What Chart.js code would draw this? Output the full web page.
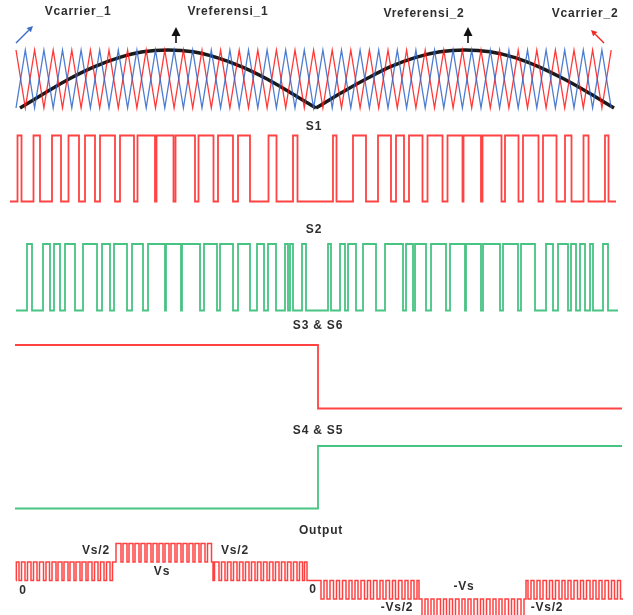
<!DOCTYPE html>
<html><head><meta charset="utf-8">
<script src="https://cdn.jsdelivr.net/npm/chart.js@4/dist/chart.umd.min.js"></script>
<style>
html,body{margin:0;padding:0;background:#fff;}
#wrap{position:relative;width:633px;height:615px;overflow:hidden;}
#c{position:absolute;left:0;top:0;}
.lbl{position:absolute;font-family:"Liberation Sans",Arial,Helvetica,sans-serif;font-weight:bold;font-size:12px;line-height:12px;color:#2e2e2e;letter-spacing:0.8px;transform:translate(-50%,-50%);white-space:nowrap;}
</style></head><body>
<div id="wrap"><canvas id="c" width="633" height="615"></canvas></div>
<script>
// ---------------- DATA (time axis in samples) ----------------
const carrierVertexT = [16,25.3,34.6,43.9,53.2,62.5,71.8,81.1,90.4,99.7,109,118.3,127.6,136.9,146.2,155.5,164.8,174.1,183.4,192.7,202,211.3,220.6,229.9,239.2,248.5,257.8,267.1,276.4,285.7,295,304.3,313.6,322.9,332.2,341.5,350.8,360.1,369.4,378.7,388,397.3,406.6,415.9,425.2,434.5,443.8,453.1,462.4,471.7,481,490.3,499.6,508.9,518.2,527.5,536.8,546.1,555.4,564.7,574,583.3,592.6,601.9,611.2];
const carrier1StartLevel = 0;   // blue
const carrier2StartLevel = 1;   // red

const refT = [20,45,69,94,119,143,168,193,217,242,267,291,316,341,366,390,415,440,465,490,515,539,564,589,614];
const refV = [0,0.26,0.5,0.71,0.87,0.97,1,0.97,0.87,0.71,0.5,0.26,0,0.26,0.5,0.71,0.87,0.97,1,0.97,0.87,0.71,0.5,0.26,0];

const s1Range = [10, 616];
const s1Edges = [17.5,21.5,33.5,40,52,61,68.5,79,85,95,100,115,120,134,137.5,155,156.5,173.5,175.5,195,198.5,213.5,218,233,238,250,268.5,276.5,293,297.5,
  333,336.5,353,366,378,391,396,404,409,422.5,427.5,442.5,447.5,462.5,463.5,481,482.5,501.5,505,518.5,523,538.5,543,556.5,565,571.5,583.5,588.5,605,608.5];

const s2Range = [16, 618];
const s2Edges = [27,32,43,50,54,60,65,75,83,97,102,110,114,127,132,143,148,165,166,181,182,200,204,217,220,233,238,250,257,264,268,276,285,288,290,293,302,306,
  328,331,340,345,348,356,363,376,385,403,406,413,415,426,431,446,450,465,466,481,483,500,503,518,521,535,546,553,558,568,571,576,580,585,590,593,603,608];

const s36Range = [15, 622], s36SwitchT = 318, s36Levels = [1, 0];
const s45Range = [15, 622], s45SwitchT = 318, s45Levels = [0, 1];

// Output: per segment start time, base level, alternate level, toggle edges (levels in units of Vs)
const outSegStart = [16, 115.5, 213, 320.5, 421, 526];
const outSegBase  = [0, 0.5, 0, 0, -0.5, 0];
const outSegAlt   = [0.5, 1, 0.5, -0.5, -1, -0.5];
const outEdgesA = [16.5,19,21.5,25,27.5,31,33.5,37,39.5,43.5,46,49.5,52,56,58,62,64,68,70,74,76,80,82,86,88,92,94.5,98,100.5,104,106.5,110,112.5];
const outEdgesB = [116,121,123,127,129,133,135,139,141,145,147,151,153,157,159,163,165,169,171,175,177,181,183,187,189,193,195,199,201,205,207.5,211.5];
const outEdgesC = [214.5,219,221.5,225,227.5,231,233.5,237,239.5,243,245.5,249,251.5,255,257.5,261,263.5,267,269.5,273,275.5,279,281.5,285,287.5,291,293.5,297,299.5,302.5,304.5,307];
const outEdgesD = [321,324,327,330,333.5,336.5,339.5,342.5,346,349,352,355,358,361,364.5,367.5,370.5,373.5,377,380,383,386,389.5,392.5,395.5,398.5,402,405,408,411,414,417,419];
const outEdgesE = [422,425,428,431,434,437,440.5,443.5,446.5,449.5,452.5,455.5,459,462,465,468,471,474,477.5,480.5,483.5,486.5,490,493,496,499,502,505,508.5,511.5,514.5,517.5,521,524];
const outEdgesF = [528,531,534,537,540,543,546.5,549.5,552.5,555.5,559,562,565,568,571,574,577.5,580.5,583.5,586.5,590,593,596,599,602,605,608.5,611.5,614.5,617.5,620.5];
const outEnd = 623;

// ---------------- LAYOUT ----------------
const W = 633, H = 615;
function yAxis(vHi, pxHi, vLo, pxLo){
  const k = (pxLo - pxHi) / (vHi - vLo);
  const max = vHi + pxHi / k;
  return {type:'linear', display:false, min:max - H / k, max:max};
}

// ---------------- BUILDERS ----------------
function trianglePts(ts, start){ return ts.map((t,i)=>({x:t, y:(i%2===0)?start:1-start})); }
function pwmPts(range, edges){
  const p=[{x:range[0],y:0}]; let lv=0;
  edges.forEach(t=>{p.push({x:t,y:lv}); lv=1-lv; p.push({x:t,y:lv});});
  p.push({x:range[1],y:lv}); return p;
}
function stepPts(range, sw, levels){
  return [{x:range[0],y:levels[0]},{x:sw,y:levels[0]},{x:sw,y:levels[1]},{x:range[1],y:levels[1]}];
}
function outPts(){
  const segs=[outEdgesA,outEdgesB,outEdgesC,outEdgesD,outEdgesE,outEdgesF];
  const p=[]; let lv=outSegBase[0];
  segs.forEach((edges,i)=>{
    const t0=outSegStart[i];
    p.push({x:t0,y:lv}); lv=outSegBase[i]; p.push({x:t0,y:lv});
    edges.forEach(t=>{p.push({x:t,y:lv}); lv=(lv===outSegBase[i])?outSegAlt[i]:outSegBase[i]; p.push({x:t,y:lv});});
  });
  p.push({x:outEnd,y:lv}); return p;
}
const refPts = refT.map((t,i)=>({x:t,y:refV[i]}));

const RED='rgba(255,0,0,0.74)', GREEN='rgba(0,172,82,0.72)', BLUE='rgba(45,100,200,0.85)';
const base = {pointRadius:0, borderJoinStyle:'miter', tension:0, clip:false, fill:false};

const arrows = {
  id:'arrows',
  afterDatasetsDraw(chart){
    const ctx=chart.ctx; ctx.save();
    function arrow(x1,y1,x2,y2,color,lw,hl,hw){
      const a=Math.atan2(y2-y1,x2-x1);
      const bx=x2-hl*Math.cos(a), by=y2-hl*Math.sin(a);
      ctx.strokeStyle=color; ctx.fillStyle=color; ctx.lineWidth=lw;
      ctx.beginPath(); ctx.moveTo(x1,y1); ctx.lineTo(bx,by); ctx.stroke();
      ctx.beginPath(); ctx.moveTo(x2,y2);
      ctx.lineTo(bx+hw*Math.sin(a), by-hw*Math.cos(a));
      ctx.lineTo(bx-hw*Math.sin(a), by+hw*Math.cos(a));
      ctx.closePath(); ctx.fill();
    }
    arrow(16,43,33,26,'rgb(60,110,200)',1.4,6,3);
    arrow(176,43,176,27,'#111',1.6,9,4.5);
    arrow(468,43,468,27,'#111',1.6,9,4.5);
    arrow(604,43,591,30,'rgb(240,40,40)',1.4,6,3);
    ctx.restore();
  }
};

new Chart(document.getElementById('c'), {
  type:'line',
  data:{datasets:[
    {...base, data:trianglePts(carrierVertexT,carrier1StartLevel), borderColor:BLUE, borderWidth:1.3, yAxisID:'yCar'},
    {...base, data:trianglePts(carrierVertexT,carrier2StartLevel), borderColor:'rgba(255,20,20,0.85)', borderWidth:1.3, yAxisID:'yCar'},
    {...base, data:refPts.slice(0,13), borderColor:'#1a1a1a', borderWidth:3.4, cubicInterpolationMode:'monotone', yAxisID:'yCar'},
    {...base, data:refPts.slice(12), borderColor:'#1a1a1a', borderWidth:3.4, cubicInterpolationMode:'monotone', yAxisID:'yCar'},
    {...base, data:pwmPts(s1Range,s1Edges), borderColor:RED, borderWidth:1.8, yAxisID:'yS1'},
    {...base, data:pwmPts(s2Range,s2Edges), borderColor:GREEN, borderWidth:1.8, yAxisID:'yS2'},
    {...base, data:stepPts(s36Range,s36SwitchT,s36Levels), borderColor:RED, borderWidth:1.8, yAxisID:'yS36'},
    {...base, data:stepPts(s45Range,s45SwitchT,s45Levels), borderColor:GREEN, borderWidth:1.8, yAxisID:'yS45'},
    {...base, data:outPts(), borderColor:'rgba(255,0,0,0.75)', borderWidth:1.5, yAxisID:'yOut'}
  ]},
  options:{
    responsive:false, animation:false, devicePixelRatio:1,
    layout:{padding:0},
    plugins:{legend:{display:false}, tooltip:{enabled:false}, title:{display:false}},
    scales:{
      x:{type:'linear', display:false, min:0, max:W},
      yCar:yAxis(1,50,0,108),
      yS1:yAxis(1,135.5,0,201.5),
      yS2:yAxis(1,244,0,310.5),
      yS36:yAxis(1,345,0,408.5),
      yS45:yAxis(1,446,0,508.5),
      yOut:yAxis(1,543.5,0,580.5)
    }
  },
  plugins:[arrows]
});

// ---------------- LABELS ----------------
const labels = [
  ['Vcarrier_1',78,11],['Vreferensi_1',228,11],['Vreferensi_2',424,13],['Vcarrier_2',585,13],
  ['S1',314,126],['S2',314,229],['S3 & S6',318,325],['S4 & S5',318,430],['Output',321,530],
  ['Vs/2',96,550],['Vs',162,571],['Vs/2',235,550],['0',23,590],['0',313,589],
  ['-Vs',464,586],['-Vs/2',397,607],['-Vs/2',547,607]
];
const wrap=document.getElementById('wrap');
labels.forEach(([t,x,y])=>{const d=document.createElement('div'); d.className='lbl'; d.textContent=t; d.style.left=x+'px'; d.style.top=y+'px'; wrap.appendChild(d);});
</script>
</body></html>
